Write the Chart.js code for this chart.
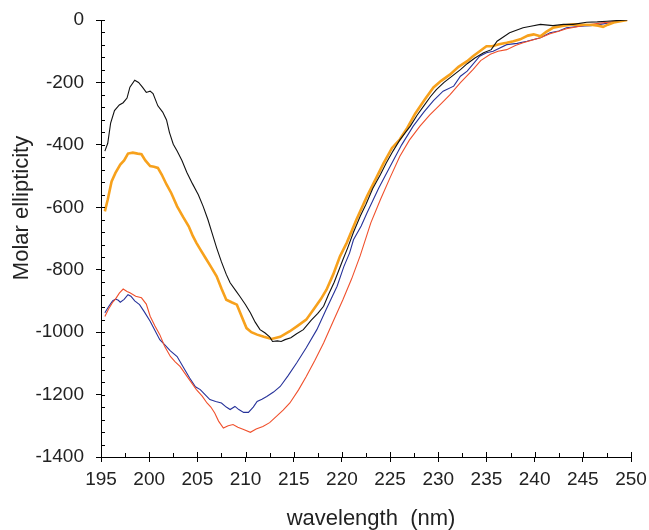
<!DOCTYPE html>
<html>
<head>
<meta charset="utf-8">
<script src="https://cdn.jsdelivr.net/npm/chart.js@4"></script>
<style>
  html, body { margin: 0; padding: 0; background: #fff; }
  #wrap { width: 649px; height: 530px; }
</style>
</head>
<body>
<div id="wrap"><canvas id="cdChart" width="649" height="530"></canvas></div>
<script>
// CD spectra (wavelength nm, molar ellipticity)
const blackWl = [195.4,195.7,196.0,196.4,196.9,197.3,197.7,198.0,198.5,198.9,199.3,199.7,200.1,200.4,200.9,201.4,201.8,202.1,202.5,202.9,203.4,203.9,204.5,205.1,205.6,206.1,206.6,207.0,207.5,208.0,208.4,209.0,209.4,210.0,210.5,211.0,211.5,212.0,212.5,212.8,213.3,213.7,214.1,214.7,215.3,216.0,216.8,217.5,218.1,218.6,219.2,219.7,220.1,220.6,221.2,221.9,222.5,223.2,224.0,224.6,225.3,226.0,226.6,227.1,227.8,228.5,229.2,229.8,230.6,231.5,232.3,233.0,233.8,234.7,235.5,236.1,237.4,238.8,239.6,240.6,241.9,243.0,244.0,245.4,246.5,247.5,248.5,249.6];
const blackVal = [-420,-395,-330,-290,-272,-265,-250,-215,-193,-200,-215,-232,-228,-236,-275,-295,-320,-360,-398,-420,-450,-488,-525,-560,-597,-640,-690,-730,-775,-815,-842,-868,-885,-912,-938,-968,-992,-1002,-1015,-1030,-1028,-1030,-1024,-1018,-1005,-992,-962,-940,-917,-880,-840,-800,-768,-730,-680,-629,-590,-540,-495,-458,-420,-385,-360,-340,-305,-275,-245,-223,-200,-178,-159,-140,-122,-105,-95,-68,-41,-25,-20,-14,-18,-14,-14,-7,-6,-4,-2,0];

const orangeWl = [195.4,195.7,196.1,196.5,197.0,197.4,197.8,198.3,198.8,199.2,199.6,200.1,200.5,200.9,201.3,201.8,202.3,202.9,203.5,204.1,204.5,204.9,205.3,205.8,206.4,207.0,207.5,208.0,208.6,209.1,209.6,210.1,210.6,211.2,211.9,212.7,213.6,214.6,215.4,216.3,217.0,217.8,218.4,219.1,219.8,220.5,221.5,222.6,223.5,224.3,225.2,226.0,226.8,227.6,228.6,229.5,230.3,231.2,232.1,233.0,233.6,234.3,235.0,235.6,236.3,237.1,237.8,238.5,239.3,239.9,240.6,241.2,241.9,243.0,244.0,245.0,246.0,246.6,247.1,247.6,248.2,249.6];
const orangeVal = [-613,-575,-517,-490,-463,-450,-428,-425,-428,-430,-450,-468,-470,-474,-495,-527,-555,-597,-630,-661,-690,-714,-735,-760,-790,-821,-860,-896,-905,-912,-950,-987,-1000,-1008,-1015,-1022,-1015,-997,-980,-960,-930,-895,-864,-815,-757,-714,-640,-565,-510,-460,-410,-383,-345,-300,-255,-216,-195,-175,-150,-132,-116,-100,-84,-84,-78,-73,-68,-62,-50,-46,-52,-38,-25,-18,-14,-15,-16,-18,-22,-15,-8,0];

const blueWl = [195.4,195.8,196.2,196.5,196.8,197.0,197.4,197.8,198.1,198.5,199.0,199.5,200.1,200.6,201.1,201.6,202.2,202.9,203.5,204.2,204.8,205.3,205.8,206.3,206.9,207.5,208.0,208.4,208.9,209.3,209.8,210.3,210.8,211.2,211.7,212.2,212.9,213.6,214.4,215.3,216.3,217.4,218.4,219.5,220.2,220.8,221.2,222.0,222.6,223.8,225.0,226.2,227.4,228.5,229.5,230.5,231.6,232.3,233.0,234.3,235.0,235.7,237.1,238.2,239.2,240.6,241.6,242.5,243.3,244.7,245.8,246.8,248.0,249.6];
const blueVal = [-938,-918,-900,-894,-898,-904,-895,-880,-885,-900,-912,-935,-965,-995,-1024,-1040,-1060,-1078,-1110,-1147,-1175,-1184,-1200,-1216,-1222,-1227,-1240,-1248,-1238,-1248,-1257,-1257,-1240,-1222,-1215,-1206,-1192,-1174,-1140,-1099,-1050,-992,-925,-853,-790,-746,-704,-660,-618,-540,-469,-400,-340,-295,-258,-228,-212,-180,-164,-116,-105,-100,-79,-75,-68,-57,-41,-35,-25,-20,-18,-14,-8,0];

const redWl = [195.4,195.8,196.2,196.5,196.9,197.3,197.7,198.0,198.6,199.2,199.7,200.1,200.6,201.1,201.6,202.2,202.7,203.2,204.0,204.9,205.5,206.0,206.4,206.8,207.2,207.7,208.2,208.7,209.2,209.8,210.5,211.1,211.8,212.5,213.2,213.9,214.6,215.5,216.3,217.2,218.1,219.1,220.1,221.0,221.9,223.0,224.0,225.0,226.0,227.0,228.1,229.1,230.2,231.2,232.3,233.6,234.4,235.4,236.2,237.1,238.0,238.8,239.7,240.6,241.6,242.5,243.3,245.0,246.8,248.0,249.6];
const redVal = [-950,-925,-905,-894,-875,-862,-870,-874,-885,-890,-910,-949,-980,-1008,-1045,-1078,-1095,-1110,-1145,-1184,-1205,-1227,-1240,-1259,-1285,-1307,-1300,-1296,-1305,-1312,-1321,-1310,-1302,-1290,-1270,-1250,-1227,-1185,-1142,-1090,-1035,-965,-896,-830,-755,-650,-575,-505,-437,-385,-340,-305,-271,-240,-201,-159,-130,-110,-100,-95,-82,-73,-65,-57,-44,-36,-28,-18,-10,-6,0];

const xMin = 195, xMax = 250, xStep = 5, xMinorStep = 2.5;
const yMin = -1400, yMax = 0, yStep = 200, yMinorStep = 40;
const xTitle = 'wavelength  (nm)';
const yTitle = 'Molar ellipticity';

const toPoints = (wl, val) => wl.map((w, i) => ({ x: w, y: val[i] }));

const FONT = "'Liberation Sans', Arial, Helvetica, sans-serif";
const TEXT = '#222';

// inner ticks (minor + inner half of the major ones) and the axis titles
const axisExtras = {
  id: 'axisExtras',
  afterDraw(chart) {
    const { ctx, chartArea, scales } = chart;
    ctx.save();
    ctx.strokeStyle = '#000';
    ctx.lineWidth = 1;
    ctx.beginPath();
    for (let v = yMin; v <= yMax + 1e-6; v += yMinorStep) {
      const py = Math.round(scales.y.getPixelForValue(v)) + 0.5;
      ctx.moveTo(chartArea.left, py);
      ctx.lineTo(chartArea.left + 4, py);
    }
    for (let v = xMin; v <= xMax + 1e-6; v += xMinorStep) {
      const px = Math.round(scales.x.getPixelForValue(v)) + 0.5;
      const len = (v - xMin) % xStep === 0 ? 5 : 4;
      ctx.moveTo(px, chartArea.bottom);
      ctx.lineTo(px, chartArea.bottom - len);
    }
    ctx.stroke();

    ctx.fillStyle = TEXT;
    ctx.font = '22px ' + FONT;
    ctx.textAlign = 'center';
    ctx.textBaseline = 'alphabetic';
    ctx.fillText(xTitle, 371, 525);

    ctx.translate(28, 208);
    ctx.rotate(-Math.PI / 2);
    ctx.fillText(yTitle, 0, 0);
    ctx.restore();
  }
};

const series = [
  { label: 'black', wl: blackWl, val: blackVal, color: '#111111', width: 1.1 },
  { label: 'orange', wl: orangeWl, val: orangeVal, color: '#f7a11c', width: 2.6 },
  { label: 'red', wl: redWl, val: redVal, color: '#f0502c', width: 1.1 },
  { label: 'blue', wl: blueWl, val: blueVal, color: '#26329a', width: 1.1 }
];

new Chart(document.getElementById('cdChart'), {
  type: 'line',
  data: {
    datasets: series.map(s => ({
      label: s.label,
      data: toPoints(s.wl, s.val),
      borderColor: s.color,
      borderWidth: s.width,
      pointRadius: 0,
      tension: 0,
      fill: false
    }))
  },
  options: {
    responsive: false,
    animation: false,
    events: [],
    layout: { padding: { top: 20, right: 18, left: 0, bottom: 0 } },
    plugins: { legend: { display: false }, tooltip: { enabled: false } },
    scales: {
      x: {
        type: 'linear',
        min: xMin,
        max: xMax,
        afterFit: scale => {
          scale.height = 73;
          scale.paddingLeft = 0;
          scale.paddingRight = 0;
        },
        ticks: { stepSize: xStep, color: TEXT, padding: 6, font: { family: FONT, size: 19 }, callback: v => String(v) },
        grid: { drawOnChartArea: false, drawTicks: true, tickLength: 5, color: '#000' },
        border: { color: '#000', width: 1 }
      },
      y: {
        type: 'linear',
        min: yMin,
        max: yMax,
        afterFit: scale => {
          scale.width = 101;
          scale.paddingTop = 0;
          scale.paddingBottom = 0;
        },
        ticks: { stepSize: yStep, color: TEXT, padding: 12, font: { family: FONT, size: 19 }, callback: v => String(v) },
        grid: { drawOnChartArea: false, drawTicks: true, tickLength: 5, color: '#000' },
        border: { color: '#000', width: 1 }
      }
    }
  },
  plugins: [axisExtras]
});
</script>
</body>
</html>
